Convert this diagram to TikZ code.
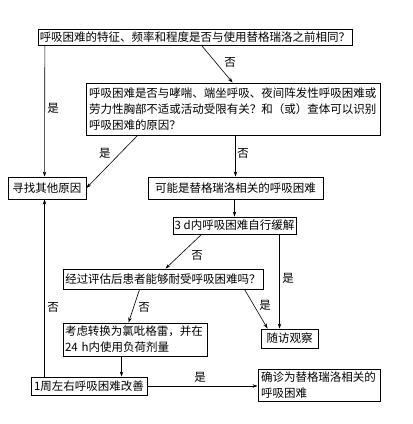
\documentclass[tikz,border=0pt]{standalone}
\usepackage{fontspec}
\setmainfont{Noto Sans CJK SC}
\usetikzlibrary{arrows.meta}
\begin{document}
\begin{tikzpicture}[x=1pt,y=-1pt,
 box/.style={draw, line width=0.9pt, inner sep=0pt, font=\fontsize{11.5}{16}\selectfont},
 mbox/.style={box, inner xsep=3pt, align=left},
 arr/.style={-{Stealth[length=5pt,width=3.5pt]}, line width=0.6pt},
 lbl/.style={font=\fontsize{11.5}{14}\selectfont, inner sep=0pt}]
\useasboundingbox[fill=white] (0,0) rectangle (413,424);
\node[box, minimum width=314pt, minimum height=16pt] (b1) at (195,37) {呼吸困难的特征、频率和程度是否与使用替格瑞洛之前相同？};
\node[mbox, text width=288pt, minimum height=52pt] (b2) at (233,109) {呼吸困难是否与哮喘、端坐呼吸、夜间阵发性呼吸困难或\\劳力性胸部不适或活动受限有关？和（或）查体可以识别\\呼吸困难的原因？};
\node[box, minimum width=78pt, minimum height=22pt] (xz) at (47,188) {寻找其他原因};
\node[box, minimum width=175pt, minimum height=22pt] (kn) at (235.5,188) {可能是替格瑞洛相关的呼吸困难};
\node[box, minimum width=123pt, minimum height=17pt] (d3) at (234.5,225.5) {3 d内呼吸困难自行缓解};
\node[box, minimum width=200pt, minimum height=20pt] (jg) at (163,279) {经过评估后患者能够耐受呼吸困难吗？};
\node[box, minimum width=57pt, minimum height=19pt] (sf) at (289.5,338.5) {随访观察};
\node[mbox, inner xsep=2pt, text width=140pt, minimum height=33pt] (kl) at (135,339.5) {考虑转换为氯吡格雷，并在\\24 h内使用负荷剂量};
\node[box, minimum width=116pt, minimum height=18pt] (yz) at (89,386) {1周左右呼吸困难改善};
\node[mbox, text width=116pt, minimum height=32pt] (qz) at (319,385) {确诊为替格瑞洛相关的\\呼吸困难};
\draw[arr] ([xshift=164pt]b1.south west) -- ([xshift=147pt]b2.north west);
\draw[arr] ([xshift=7.3pt]b1.south west) -- ([xshift=37pt]xz.north west);
\draw[arr] ([xshift=52pt]b2.south west) -- (xz.east);
\draw[arr] (kn.north |- b2.south) -- (kn.north);
\draw[arr] (d3.north |- kn.south) -- (d3.north);
\draw[arr] ([xshift=29pt]d3.south west) -- ([xshift=103pt]jg.north west);
\draw[arr] ([xshift=107pt]d3.south west) -- ([xshift=19pt]sf.north west);
\draw[arr] ([xshift=182pt]jg.south west) -- ([xshift=7pt]sf.north west);
\draw[arr] ([xshift=77pt]jg.south west) -- ([xshift=66pt]kl.north west);
\draw[arr] ([xshift=59pt]kl.south west) -- ([xshift=91pt]yz.north west);
\draw[arr] (yz.east) -- (yz.east -| qz.west);
\draw[arr] ([xshift=14pt]yz.north west) -- ([xshift=37pt]xz.south west);
\node[lbl] (l1) at (230,62) {否};
\node[lbl] (l2) at (53,108) {是};
\node[lbl] (l3) at (105,153) {是};
\node[lbl] (l4) at (243,153) {否};
\node[lbl] (l5) at (197,255) {否};
\node[lbl] (l6) at (288,278) {是};
\node[lbl] (l7) at (265,305) {是};
\node[lbl] (l8) at (144,307) {否};
\node[lbl] (l9) at (200,377) {是};
\node[lbl] (l10) at (53,307) {否};
\end{tikzpicture}
\end{document}
